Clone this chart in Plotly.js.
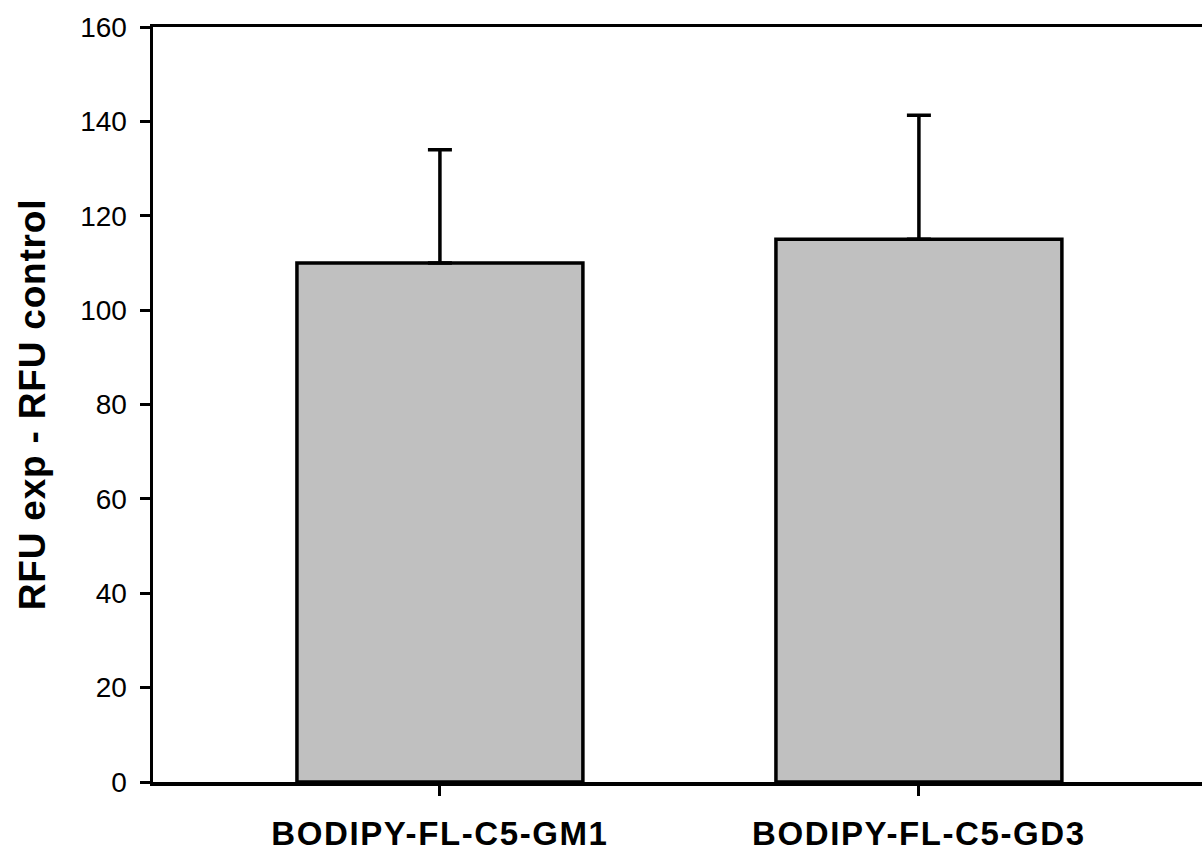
<!DOCTYPE html>
<html>
<head>
<meta charset="utf-8">
<script src="https://cdn.plot.ly/plotly-3.0.1.min.js"></script>
<style>
html,body{margin:0;padding:0;background:#fff;}
#chart{width:1202px;height:854px;}
#chart .xtick text{letter-spacing:1.6px;}
#chart .ytitle{letter-spacing:0.8px;}
</style>
</head>
<body>
<div id="chart"></div>
<script>
var categories = ["BODIPY-FL-C5-GM1", "BODIPY-FL-C5-GD3"];
var meanValues = [110, 115];
var errorUpper = [24, 26.3];
var yTickValues = [0, 20, 40, 60, 80, 100, 120, 140, 160];

var trace = {
  type: "bar",
  x: categories,
  y: meanValues,
  width: 0.597,
  marker: {color: "#c0c0c0", line: {color: "#000", width: 3.5}},
  error_y: {
    type: "data", symmetric: false,
    array: errorUpper,
    arrayminus: meanValues.map(function(){return 0;}),
    color: "#000", thickness: 3.5, width: 12
  },
  hoverinfo: "x+y"
};

var layout = {
  width: 1202, height: 854,
  margin: {l: 153, r: 0, t: 27, b: 72},
  paper_bgcolor: "#fff", plot_bgcolor: "#fff",
  showlegend: false,
  font: {family: "Liberation Sans, Arial, sans-serif", color: "#000"},
  xaxis: {
    type: "category",
    range: [-0.599, 1.591],
    showline: true, linecolor: "#000", linewidth: 3.5, mirror: true,
    ticks: "outside", ticklen: 10, tickwidth: 3, tickcolor: "#000",
    showgrid: false, zeroline: false,
    tickfont: {size: 33, family: "Liberation Sans, Arial, sans-serif", weight: "bold", color: "#000"},
    ticklabelstandoff: 10,
    automargin: false
  },
  yaxis: {
    range: [0, 160],
    tickvals: yTickValues,
    ticktext: yTickValues.map(String),
    showline: true, linecolor: "#000", linewidth: 3.5,
    ticks: "outside", ticklen: 10, tickwidth: 3, tickcolor: "#000",
    showgrid: false, zeroline: false,
    tickfont: {size: 28, color: "#000"},
    ticklabelstandoff: 7,
    title: {text: "<b>RFU exp - RFU control</b>", font: {size: 37, color: "#000"}, standoff: 24},
    automargin: false
  }
};

Plotly.newPlot("chart", [trace], layout, {displayModeBar: false, staticPlot: true});
</script>
</body>
</html>
